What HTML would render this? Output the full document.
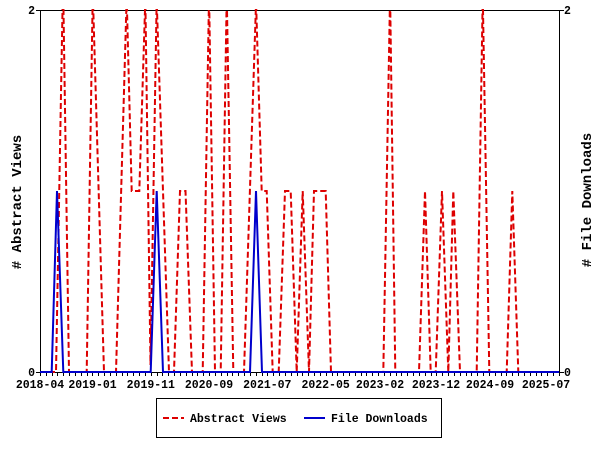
<!DOCTYPE html>
<html><head><meta charset="utf-8"><style>
html,body{margin:0;padding:0;background:#fff;}
svg{display:block;}
text{font-family:"Liberation Mono","DejaVu Sans Mono",monospace;font-weight:bold;font-size:11.5px;fill:#000;}
text.big{font-size:14px;}
</style></head><body>
<svg width="600" height="450" viewBox="0 0 600 450" xmlns="http://www.w3.org/2000/svg">
<rect x="0" y="0" width="600" height="450" fill="#fff"/>
<rect x="40.5" y="10.5" width="519" height="362" fill="none" stroke="#000" stroke-width="1"/>
<g id="ticks" stroke="#000" stroke-width="1"></g>
<polyline fill="none" stroke="#dd0000" stroke-width="2" stroke-dasharray="6,3" points="
40,372 56,372 62.5,10 63.5,10 69,372
86.7,372 92.5,10 93.3,10 104,372
116,372 126.3,10 127,10 131.7,191 139.3,191 145,10 145.5,10 150.5,365 156.5,10 157,10 169,372
174,372 180,191 185.5,191 192,372
202.7,372 208.8,10 209.3,10 215,372
220.7,372 226.5,10 227,10 233.3,372
244,372 255.8,10 256.3,10 261.7,191 266.7,191 272.7,372
278.7,372 285,191 290.7,191 296.7,372 302.7,191 309,372
309,372 314,191 325.7,191 331,372
383.3,372 389.8,10 390.3,10 395.3,372
419,372 425,191 430.7,372
435.7,372 442,191 448.3,372 453.3,191 460,372
476.7,372 482.5,10 483,10 489.3,372
506.7,372 512.3,191 518.3,372 559,372"/>
<polyline fill="none" stroke="#0000cc" stroke-width="2" points="
40,372 51.7,372 57,191 63.3,372 150.7,372 156.7,191 163,372 250,372 256,191 262,372 559,372"/>
<text x="35" y="14" text-anchor="end">2</text>
<text x="35" y="376" text-anchor="end">0</text>
<text x="564" y="14">2</text>
<text x="564" y="376">0</text>
<text class="big" transform="translate(21,202) rotate(-90)" text-anchor="middle"># Abstract Views</text>
<text class="big" transform="translate(591,200) rotate(-90)" text-anchor="middle"># File Downloads</text>
<text x="40" y="388" text-anchor="middle">2018-04</text>
<text x="92.5" y="388" text-anchor="middle">2019-01</text>
<text x="150.8" y="388" text-anchor="middle">2019-11</text>
<text x="209" y="388" text-anchor="middle">2020-09</text>
<text x="267.3" y="388" text-anchor="middle">2021-07</text>
<text x="325.6" y="388" text-anchor="middle">2022-05</text>
<text x="380" y="388" text-anchor="middle">2023-02</text>
<text x="436" y="388" text-anchor="middle">2023-12</text>
<text x="490" y="388" text-anchor="middle">2024-09</text>
<text x="546" y="388" text-anchor="middle">2025-07</text>
<rect x="156.5" y="398.5" width="285" height="39" fill="#fff" stroke="#000" stroke-width="1"/>
<line x1="163" y1="418" x2="184" y2="418" stroke="#dd0000" stroke-width="2" stroke-dasharray="6,3"/>
<text x="190" y="422">Abstract Views</text>
<line x1="304" y1="418" x2="325" y2="418" stroke="#0000cc" stroke-width="2"/>
<text x="331" y="422">File Downloads</text>
</svg>
<script>
var g=document.getElementById('ticks');var s='';
for(var m=0;m<=89;m++){var x=40+m*5.83;if(x>559)break;x=Math.round(x)+0.5;s+='<line x1="'+x+'" y1="372" x2="'+x+'" y2="376"/>';}
s+='<line x1="36" y1="10.5" x2="40" y2="10.5"/><line x1="36" y1="372.5" x2="40" y2="372.5"/><line x1="560" y1="10.5" x2="564" y2="10.5"/><line x1="560" y1="372.5" x2="564" y2="372.5"/>';
g.innerHTML=s;
</script>
</body></html>
